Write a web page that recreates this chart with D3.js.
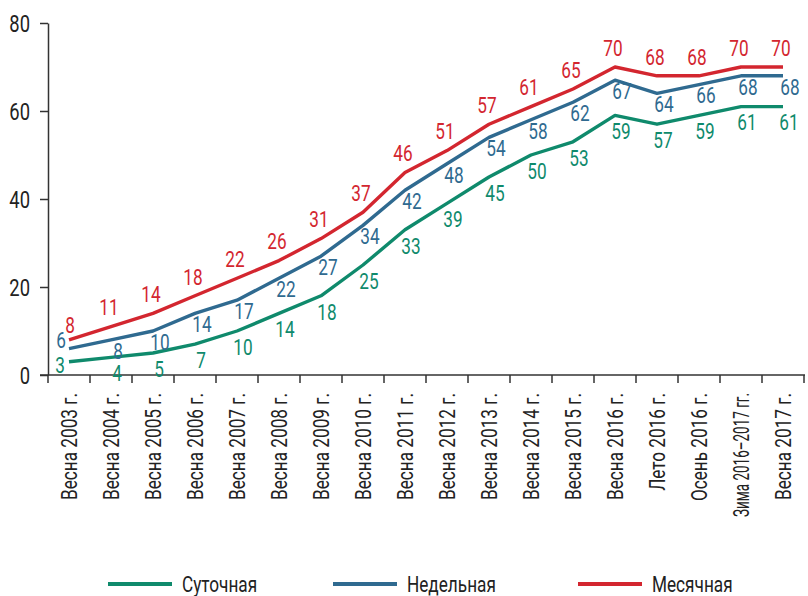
<!DOCTYPE html>
<html>
<head>
<meta charset="utf-8">
<script src="https://cdn.jsdelivr.net/npm/d3@7"></script>
<style>
  body { margin: 0; background: #fff; }
  svg { display: block; }
  text { font-family: Roboto, "Noto Sans", sans-serif; }
</style>
</head>
<body>
<svg id="chart" width="808" height="596"></svg>
<script>
const categories = ["Весна 2003 г.", "Весна 2004 г.", "Весна 2005 г.", "Весна 2006 г.", "Весна 2007 г.",
  "Весна 2008 г.", "Весна 2009 г.", "Весна 2010 г.", "Весна 2011 г.", "Весна 2012 г.", "Весна 2013 г.",
  "Весна 2014 г.", "Весна 2015 г.", "Весна 2016 г.", "Лето 2016 г.", "Осень 2016 г.",
  "Зима 2016–2017 гг.", "Весна 2017 г."];
const daily   = [3, 4, 5, 7, 10, 14, 18, 25, 33, 39, 45, 50, 53, 59, 57, 59, 61, 61];
const weekly  = [6, 8, 10, 14, 17, 22, 27, 34, 42, 48, 54, 58, 62, 67, 64, 66, 68, 68];
const monthly = [8, 11, 14, 18, 22, 26, 31, 37, 46, 51, 57, 61, 65, 70, 68, 68, 70, 70];
const seriesNames = ["Суточная", "Недельная", "Месячная"];
const yTicks = [0, 20, 40, 60, 80];

const colors = ["#0f8a6c", "#2f6a90", "#d3262f"];
const labelOffsets = [{dx: 6, dy: 16}, {dx: 7, dy: 11}, {dx: -2, dy: -19}];
const firstOffsets = [{dx: -9, dy: 3}, {dx: -8, dy: -8}, {dx: 1, dy: -15}];
const SX = 0.8; // horizontal condensing of the typeface
const MAX_XLABEL = 124;

const svg = d3.select("#chart");
const x = d3.scaleBand().domain(categories).range([48, 804]);
const y = d3.scaleLinear().domain([0, 80]).range([375, 23]);
const axisColor = "#333";
const textColor = "#222";

// Y axis
const yAxis = svg.append("g").attr("transform", "translate(48,0)")
  .call(d3.axisLeft(y).tickValues(yTicks).tickSize(8).tickPadding(10).tickSizeOuter(0));
yAxis.select(".domain").attr("stroke", axisColor).attr("stroke-width", 1.5);
yAxis.selectAll(".tick line").attr("stroke", axisColor).attr("stroke-width", 1.5);
yAxis.selectAll(".tick text").attr("fill", textColor).style("font-size", "23px")
  .style("font-family", "Roboto, sans-serif")
  .attr("x", 0).attr("dy", "0.36em")
  .attr("transform", `translate(-18,0) scale(${SX},1)`);

// X axis
const xAxis = svg.append("g").attr("transform", "translate(0,375)")
  .call(d3.axisBottom(x).tickSize(0).tickPadding(0).tickSizeOuter(0));
xAxis.select(".domain").remove();
xAxis.selectAll(".tick text")
  .attr("fill", textColor)
  .style("font-size", "21.5px")
  .style("font-family", "Roboto, sans-serif")
  .attr("text-anchor", "end")
  .attr("x", 0).attr("y", 0).attr("dy", "0.36em")
  .attr("transform", function() {
    const len = this.getComputedTextLength();
    const s = Math.min(SX, MAX_XLABEL / len);
    return `translate(0,18) rotate(-90) scale(${s},1)`;
  });
const boundaries = categories.map(c => x(c)).concat([x.range()[1]]);
svg.append("line").attr("x1", 40).attr("x2", x.range()[1] + 1)
  .attr("y1", y(0)).attr("y2", y(0)).attr("stroke", axisColor).attr("stroke-width", 1.5);
svg.append("g").selectAll("line").data(boundaries).join("line")
  .attr("x1", d => d).attr("x2", d => d)
  .attr("y1", y(0)).attr("y2", y(0) + 8)
  .attr("stroke", axisColor).attr("stroke-width", 1.5);

// Lines
const series = [daily, weekly, monthly];
const cx = i => x(categories[i]) + x.bandwidth() / 2;
const line = d3.line().x((d, i) => cx(i)).y(d => y(d));
series.forEach((s, k) => {
  svg.append("path").datum(s).attr("d", line)
    .attr("fill", "none").attr("stroke", colors[k]).attr("stroke-width", 3.4)
    .attr("stroke-linejoin", "round");
});
series.forEach((s, k) => {
  svg.append("g").selectAll("text").data(s).join("text")
    .attr("transform", (d, i) => {
      const o = i === 0 ? firstOffsets[k] : labelOffsets[k];
      return `translate(${cx(i) + o.dx},${y(d) + o.dy}) scale(${SX},1)`;
    })
    .attr("dy", "0.36em")
    .attr("text-anchor", "middle")
    .attr("fill", colors[k])
    .style("font-size", "21.5px")
    .text(d => d);
});

// Legend
const legendX = [108, 333, 578];
const legend = svg.append("g").selectAll("g").data(seriesNames).join("g")
  .attr("transform", (d, i) => `translate(${legendX[i]},584)`);
legend.append("line").attr("x1", 0).attr("x2", 64).attr("y1", 0).attr("y2", 0)
  .attr("stroke", (d, i) => colors[i]).attr("stroke-width", 4);
legend.append("text").attr("transform", `translate(74,0) scale(${SX},1)`)
  .attr("dy", "0.36em").attr("fill", textColor)
  .style("font-size", "21.5px").text(d => d);
</script>
</body>
</html>
